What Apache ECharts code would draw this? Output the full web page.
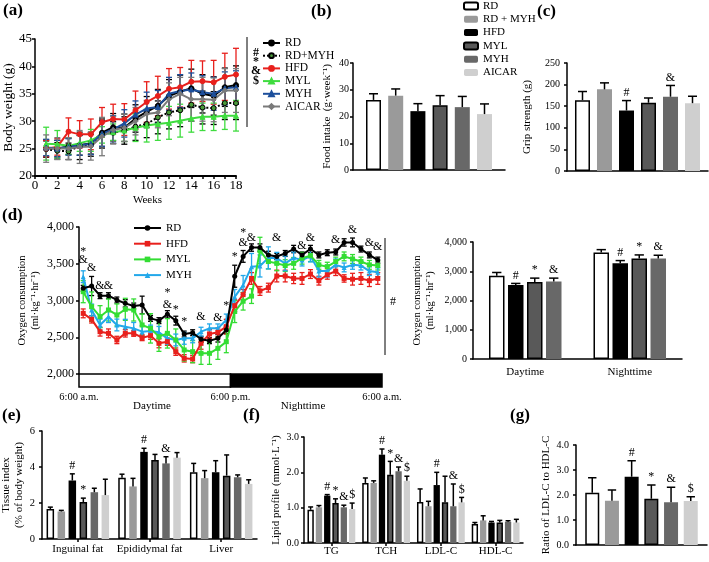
<!DOCTYPE html>
<html><head><meta charset="utf-8">
<script src="https://cdn.jsdelivr.net/npm/echarts@6/dist/echarts.min.js"></script>
<style>html,body{margin:0;padding:0;background:#fff}#c{width:709px;height:562px}</style>
</head><body><div id="c"></div>
<script>
const FONT = 'Liberation Serif';

// ---------- (a) body weight ----------
const weeks = [1,2,3,4,5,6,7,8,9,10,11,12,13,14,15,16,17,18];
const weekTicks = [0,2,4,6,8,10,12,14,16,18];
const bwRD     = [25.1,25.0,25.4,25.6,26.0,27.9,28.9,28.8,30.5,31.7,32.8,34.6,35.4,36.0,35.0,34.6,36.2,36.6];
const bwRDMYH  = [24.9,24.6,24.5,25.5,25.6,27.6,27.9,28.3,29.0,29.5,30.7,31.6,32.0,33.0,32.5,32.4,33.3,33.3];
const bwHFD    = [25.0,25.3,28.1,27.6,27.6,29.8,30.4,30.3,32.0,33.5,34.6,35.9,36.2,37.2,37.3,37.1,38.1,38.5];
const bwMYL    = [25.9,25.8,25.5,26.0,26.5,27.5,28.0,28.3,28.8,29.2,29.5,29.7,30.1,30.5,30.8,30.8,31.0,31.0];
const bwMYH    = [25.2,25.0,25.3,25.6,25.9,27.7,28.5,29.6,31.2,32.3,32.6,35.0,35.5,35.8,35.3,35.0,36.0,36.2];
const bwAICAR  = [25.0,25.0,25.0,25.3,25.4,27.2,28.4,28.8,30.0,31.3,31.6,34.0,35.0,34.0,34.0,33.9,35.6,35.6];
const bwRDErr    = [1.5,1.5,1.5,1.8,2.0,2.5,2.5,2.5,2.5,2.8,3.0,3.0,3.0,3.5,3.5,3.5,3.5,3.5];
const bwRDMYHErr = [1.5,1.5,1.5,2.5,2.0,2.5,2.0,2.5,2.5,2.5,3.0,3.0,3.0,3.0,3.0,3.0,3.0,3.0];
const bwHFDErr   = [1.5,1.5,2.5,2.5,2.8,2.7,2.7,2.9,3.5,3.7,3.6,3.7,3.6,3.9,3.7,4.0,4.3,4.8];
const bwMYLErr   = [3.0,2.5,1.5,1.5,2.0,1.5,1.5,2.0,2.5,3.0,3.0,3.0,3.0,2.5,2.5,2.5,2.5,2.8];
const bwMYHErr   = [1.5,1.5,1.5,1.8,2.0,2.3,2.5,2.5,2.5,3.0,3.0,3.0,3.0,3.0,3.0,3.0,3.0,3.0];
const bwAICARErr = [2.5,2.0,2.0,3.0,2.5,3.5,2.5,2.5,2.5,2.5,2.8,3.0,3.0,4.0,4.0,4.0,4.0,4.0];
const bwSig = ['#','*','&','$'];

// ---------- groups ----------
const groups6 = ['RD','RD + MYH','HFD','MYL','MYH','AICAR'];
const groups4 = ['RD','HFD','MYL','MYH'];

// ---------- (b) food intake ----------
const foodIntake    = [26.2, 27.8, 22.0, 24.2, 23.5, 20.9];
const foodIntakeErr = [2.3, 2.5, 2.8, 3.6, 4.0, 3.8];

// ---------- (c) grip strength ----------
const gripStrength    = [164, 189, 140, 158, 172, 157];
const gripStrengthErr = [20, 15, 23, 11, 26, 16];
const gripMarks = ['', '', '#', '', '&', ''];

// ---------- (d) oxygen consumption time course ----------
const timeLabels = ['6:00 a.m.', '6:00 p.m.', '6:00 a.m.'];
const o2RD  = [3166,3197,3066,3066,3007,2961,2925,2939,2757,2726,2812,2726,2544,2562,2472,2453,2485,2599,
               3330,3600,3720,3720,3620,3600,3640,3700,3620,3700,3620,3650,3660,3790,3790,3700,3620,3550];
const o2HFD = [2825,2744,2576,2553,2463,2553,2553,2494,2522,2417,2440,2304,2213,2204,2417,2545,2567,2644,
               2930,3080,3300,3130,3175,3333,3333,3300,3300,3360,3270,3350,3400,3300,3290,3300,3270,3300];
const o2MYL = [3120,2916,2780,2871,2803,2880,2871,2667,2621,2508,2553,2463,2327,2304,2281,2281,2349,2440,
               2850,2990,3060,3680,3530,3505,3475,3505,3575,3610,3485,3460,3530,3600,3565,3530,3485,3475];
const o2MYH = [3324,2871,2667,2780,2667,2644,2621,2576,2585,2567,2485,2463,2485,2485,2576,2621,2621,2735,
               3050,3210,3460,3470,3580,3575,3505,3580,3550,3605,3400,3400,3485,3450,3485,3475,3400,3385];
const o2RDErr  = [40,130,40,40,40,50,40,120,40,40,50,60,40,40,40,40,50,50, 150,80,50,50,50,40,40,50,40,50,40,40,40,50,60,40,40,40];
const o2HFDErr = [60,50,60,60,50,50,40,40,50,60,50,50,50,50,80,60,60,100, 80,70,80,60,60,80,80,70,80,60,60,60,60,50,80,80,80,80];
const o2MYLErr = [150,200,150,150,150,150,150,150,200,200,200,150,150,150,150,150,150,150, 150,120,100,180,100,100,80,80,80,80,60,60,60,60,60,60,60,60];
const o2MYHErr = [80,80,80,80,80,100,80,80,80,80,80,80,80,60,60,60,60,80, 100,130,180,150,150,80,100,80,80,80,80,80,80,60,60,60,60,60];
const o2Phases = [[0, 18], [18, 36]];
const o2Marks = [[0,'*',3664],[0,'&',3551],[1,'&',3438],[2,'&',3197],[3,'&',3197],[10,'*',3098],[10,'&',2939],
  [11,'*',2871],[12,'*',2703],[14,'&',2780],[16,'&',2758],[17,'*',2925],[18,'*',3590],[19,'*',3914],[19,'&',3786],
  [20,'&',3854],[23,'&',3854],[26,'&',3746],[27,'&',3854],[30,'&',3823],[32,'&',3959],[34,'&',3778],[35,'&',3732]];

// ---------- (d right) day / night means ----------
const phaseCats = ['Daytime', 'Nighttime'];
const o2Day      = [2844, 2527, 2629, 2651];
const o2DayErr   = [114, 57, 136, 114];
const o2Night    = [3637, 3275, 3433, 3433];
const o2NightErr = [102, 90, 125, 114];
const o2BarMarks = [['',''], ['#','#'], ['*','*'], ['&','&']];

// ---------- (e) tissue index ----------
const tissueCats = ['Inguinal fat', 'Epididymal fat', 'Liver'];
const tissueVals = [[1.66,3.40,3.71],[1.53,2.92,3.38],[3.25,4.84,3.71],[2.05,4.39,3.52],[2.60,4.20,3.43],[2.44,4.52,3.06]];
const tissueErrs = [[0.11,0.20,0.49],[0.06,0.45,0.42],[0.37,0.20,0.64],[0.22,0.31,1.15],[0.22,0.37,0.13],[0.88,0.28,0.23]];
const tissueMarks = [['','',''],['','',''],['#','#',''],['*','',''],['','&',''],['','','']];

// ---------- (f) lipid profile ----------
const lipidCats = ['TG', 'TCH', 'LDL-C', 'HDL-C'];
const lipidVals = [[0.94,1.70,1.16,0.54],[1.01,1.70,1.04,0.64],[1.34,2.50,1.64,0.58],[1.13,1.93,1.15,0.58],[1.01,2.03,1.04,0.60],[0.96,1.76,1.15,0.58]];
const lipidErrs = [[0.08,0.14,0.37,0.04],[0.05,0.06,0.14,0.13],[0.03,0.16,0.36,0.03],[0.12,0.38,0.74,0.06],[0.06,0.12,0.63,0.03],[0.17,0.13,0.14,0.09]];
const lipidMarks = [['','','',''],['','','',''],['#','#','#',''],['*','*','',''],['&','&','&',''],['$','$','$','']];

// ---------- (g) LDL/HDL ratio ----------
const ldlHdl    = [2.09, 1.77, 2.73, 1.85, 1.71, 1.76];
const ldlHdlErr = [0.60, 0.43, 0.64, 0.55, 0.60, 0.17];
const ldlHdlMarks = ['', '', '#', '*', '&', '$'];

// ================= building =================
const chart = echarts.init(document.getElementById('c'), null, {renderer:'canvas', width:709, height:562});
const TXT = {color:'#000', fontFamily:FONT, fontSize:11};
const tx = fs => ({color:'#000', fontFamily:FONT, fontSize:fs});
const barLook6 = [
  {color:'#ffffff', borderColor:'#000', borderWidth:1.5},
  {color:'#9a9a9a'},
  {color:'#000000'},
  {color:'#595959', borderColor:'#000', borderWidth:1.5},
  {color:'#686868'},
  {color:'#cfcfcf'}
];
const barLook4 = [barLook6[0], barLook6[2], barLook6[3], barLook6[4]];

const grids = [
  {left:35, top:39, width:201, height:137},
  {left:353, top:63, width:152, height:107},
  {left:567, top:63, width:141, height:108},
  {left:79, top:227, width:303, height:147},
  {left:473, top:242, width:209, height:117},
  {left:42, top:431, width:215, height:108},
  {left:304, top:437, width:219, height:106},
  {left:576, top:445, width:131, height:100}
].map(g => Object.assign({outerBoundsMode:'none', containLabel:false}, g));

function yAx(gi, min, max, interval, name, nameGap, margin, fmt, fs, nfs) {
  return {gridIndex:gi, type:'value', min, max, interval, name, nameGap, nameLocation:'middle',
    nameTextStyle:Object.assign({lineHeight:13}, tx(nfs || 11)),
    splitLine:{show:false},
    axisLine:{show:true, lineStyle:{color:'#000', width:1.5}},
    axisTick:{show:true, length:3, lineStyle:{color:'#000', width:1.5}},
    axisLabel:Object.assign({margin, formatter:fmt}, tx(fs || 11))};
}
function catAx(gi, cats, show, margin) {
  return {gridIndex:gi, type:'category', data:cats,
    axisLine:{show:true, lineStyle:{color:'#000', width:1.5}},
    axisTick:{show:show, alignWithLabel:true, length:3, lineStyle:{color:'#000', width:1.5}},
    axisLabel:Object.assign({show:show, margin, interval:0}, TXT)};
}
const comma = v => v.toLocaleString('en-US');
const dec1 = v => v.toFixed(1);

const xAxes = [
  {gridIndex:0, type:'value', min:0, max:18, interval:1, name:'Weeks', nameLocation:'middle', nameGap:19,
   nameTextStyle:Object.assign({padding:[0,0,0,24]}, TXT), splitLine:{show:false},
   axisLine:{show:true, lineStyle:{color:'#000', width:2}},
   axisTick:{show:true, length:3, lineStyle:{color:'#000', width:1.5}},
   axisLabel:Object.assign({margin:3, formatter: v => weekTicks.includes(v) ? String(v) : ''}, tx(13))},
  catAx(1, [''], false, 4),
  catAx(2, [''], false, 4),
  {gridIndex:3, type:'value', min:0, max:36, interval:18, splitLine:{show:false},
   axisLine:{show:false}, axisTick:{show:false},
   axisLabel:Object.assign({margin:18, formatter: v => timeLabels[v/18] || ''}, tx(10.5))},
  catAx(4, phaseCats, true, 8),
  catAx(5, tissueCats, true, 5),
  catAx(6, lipidCats, true, 3),
  catAx(7, [''], false, 4)
];
xAxes[4].axisTick.show = false;

const yAxes = [
  yAx(0, 20, 45, 5, 'Body weight (g)', 20, 3, null, 13, 13.5),
  yAx(1, 0, 40, 10, 'Food intake  (g·week⁻¹)', 19, 4, null, 10),
  yAx(2, 0, 250, 50, 'Grip strength (g)', 33, 7, null, 10),
  yAx(3, 2000, 4000, 500, 'Oxygen consumption\n(ml·kg⁻¹·hr⁻¹)', 37, 5, comma, 12, 10.5),
  yAx(4, 0, 4000, 1000, 'Oxygen consumption\n(ml·kg⁻¹·hr⁻¹)', 36, 6, comma, 10, 10.5),
  yAx(5, 0, 6, 2, 'Tissue index\n(% of body weight)', 16, 7, null, 10.5),
  yAx(6, 0, 3, 1, 'Lipid profile (mmol·L⁻¹)', 20, 5, dec1, 10),
  yAx(7, 0, 4, 1, 'Ratio of LDL-C to HDL-C', 20, 7, dec1, 10)
];

const series = [];

// error bars for line panels
function lineErr(gi, xs, vals, errs, color, cap) {
  return {type:'custom', xAxisIndex:gi, yAxisIndex:gi, z:3, silent:true,
    encode:{x:0, y:[1,2]},
    data: vals.map((v,i) => [xs[i], v - errs[i], v + errs[i]]),
    renderItem: (p, api) => {
      const a = api.coord([api.value(0), api.value(1)]), b = api.coord([api.value(0), api.value(2)]);
      const c = cap/2, st = {stroke:color, lineWidth:1.3};
      return {type:'group', children:[
        {type:'line', shape:{x1:a[0], y1:a[1], x2:b[0], y2:b[1]}, style:st},
        {type:'line', shape:{x1:a[0]-c, y1:a[1], x2:a[0]+c, y2:a[1]}, style:st},
        {type:'line', shape:{x1:b[0]-c, y1:b[1], x2:b[0]+c, y2:b[1]}, style:st}]};
    }};
}

// (a)
const aDefs = [
  ['RD', bwRD, bwRDErr, '#000000', 'circle', '#000', 'solid'],
  ['RD+MYH', bwRDMYH, bwRDMYHErr, '#000000', 'circle', '#4a9a3a', 'dotted'],
  ['HFD', bwHFD, bwHFDErr, '#e8201c', 'circle', '#e8201c', 'solid'],
  ['MYL', bwMYL, bwMYLErr, '#3fdc3f', 'triangle', '#3fdc3f', 'solid'],
  ['MYH', bwMYH, bwMYHErr, '#1d4f9c', 'triangle', '#1d4f9c', 'solid'],
  ['AICAR', bwAICAR, bwAICARErr, '#7a7a7a', 'diamond', '#7a7a7a', 'solid']
];
aDefs.forEach(d => series.push(lineErr(0, weeks, d[1], d[2], d[3], 6)));
aDefs.forEach(d => series.push({type:'line', name:d[0], xAxisIndex:0, yAxisIndex:0, z:4, silent:true,
  data: weeks.map((w,i) => [w, d[1][i]]), symbol:d[4], symbolSize:5,
  lineStyle:{color:d[3], width:2, type:d[6]}, itemStyle:{color:d[5], borderColor:d[3], borderWidth:1}}));

// bar panels
function barPanel(gi, prefix, names, looks, vals, errs, marks, bw, gap) {
  const n = vals.length;
  for (let j = 0; j < n; j++) {
    series.push({type:'bar', name:prefix + names[j], xAxisIndex:gi, yAxisIndex:gi, data:vals[j],
      barWidth:bw, barGap:(gap / bw * 100).toFixed(1) + '%', itemStyle:looks[j], z:2, silent:true});
  }
  for (let j = 0; j < n; j++) {
    const mk = marks ? marks[j] : null;
    const off = (j - (n - 1) / 2) * (bw + gap);
    series.push({type:'custom', xAxisIndex:gi, yAxisIndex:gi, z:3, silent:true, encode:{x:0, y:[1,2]},
      data: vals[j].map((v,k) => [k, v, v + errs[j][k]]),
      renderItem: (p, api) => {
        const k = api.value(0), a = api.coord([k, api.value(1)]), b = api.coord([k, api.value(2)]);
        const x = a[0] + off, c = Math.max(2.5, bw * 0.3), st = {stroke:'#000', lineWidth:1.5};
        const ch = [{type:'line', shape:{x1:x, y1:a[1], x2:x, y2:b[1]}, style:st},
                    {type:'line', shape:{x1:x-c, y1:b[1], x2:x+c, y2:b[1]}, style:st}];
        const m = mk && mk[p.dataIndex];
        if (m) ch.push({type:'text', x:x, y:b[1] - 2, style:{text:m, align:'center', verticalAlign:'bottom',
          font:'12px "Liberation Serif"', fill:'#000'}});
        return {type:'group', children:ch};
      }});
  }
}
barPanel(1, 'b:', groups6, barLook6, foodIntake.map(v => [v]), foodIntakeErr.map(e => [e]), null, 15, 7.2);
barPanel(2, 'c:', groups6, barLook6, gripStrength.map(v => [v]), gripStrengthErr.map(e => [e]), gripMarks.map(m => [m]), 15, 7);
barPanel(4, 'r:', groups4, barLook4, o2Day.map((v,j) => [v, o2Night[j]]), o2DayErr.map((e,j) => [e, o2NightErr[j]]), o2BarMarks, 15.5, 3.5);
barPanel(5, 'e:', groups6, barLook6, tissueVals, tissueErrs, tissueMarks, 7.5, 3.5);
barPanel(6, 'f:', groups6, barLook6, lipidVals, lipidErrs, lipidMarks, 6.3, 2);
barPanel(7, 'g:', groups6, barLook6, ldlHdl.map(v => [v]), ldlHdlErr.map(e => [e]), ldlHdlMarks.map(m => [m]), 14, 5.7);

// (d) time course
const idx36 = o2RD.map((v,i) => i + 0.5);
const dDefs = [
  ['d:RD', o2RD, o2RDErr, '#000000', 'circle'],
  ['d:HFD', o2HFD, o2HFDErr, '#e8201c', 'rect'],
  ['d:MYL', o2MYL, o2MYLErr, '#33dd33', 'rect'],
  ['d:MYH', o2MYH, o2MYHErr, '#22a8ea', 'triangle']
];
dDefs.forEach(d => series.push(lineErr(3, idx36, d[1], d[2], d[3], 5)));
[2,3,1,0].forEach(k => { const d = dDefs[k]; series.push({type:'line', name:d[0], xAxisIndex:3, yAxisIndex:3, z:4 + (3-k)*0.1, silent:true,
  data: d[1].map((v,i) => [idx36[i], v]), symbol:d[4], symbolSize:5,
  lineStyle:{color:d[3], width:2}, itemStyle:{color:d[3]}}); });
series.push({type:'custom', xAxisIndex:3, yAxisIndex:3, z:5, silent:true, data:o2Phases,
  encode:{x:[0,1]},
  renderItem: (p, api) => {
    const a = api.coord([api.value(0), 2000]), b = api.coord([api.value(1), 2000]);
    return {type:'rect', shape:{x:a[0], y:a[1], width:b[0]-a[0], height:13},
      style:{fill: p.dataIndex === 0 ? '#fff' : '#000', stroke:'#000', lineWidth:1.5}};
  }});
series.push({type:'custom', xAxisIndex:3, yAxisIndex:3, z:6, silent:true,
  data: o2Marks.map(m => [m[0] + 0.5, m[2]]),
  renderItem: (p, api) => {
    const c = api.coord([api.value(0), api.value(1)]);
    return {type:'text', x:c[0], y:c[1], style:{text:o2Marks[p.dataIndex][1], align:'center', verticalAlign:'middle',
      font:'12px "Liberation Serif"', fill:'#000'}};
  }});

const strip = n => n.replace(/^[a-z]:/, '');
const legends = [
  {data:['RD','RD+MYH','HFD','MYL','MYH','AICAR'], orient:'vertical', left:262, top:37, padding:0,
   itemWidth:17, itemHeight:6, itemGap:0.7, selectedMode:false, textStyle:Object.assign({lineHeight:9}, tx(11.5))},
  {data:groups6.map(g => 'b:' + g), formatter:strip, orient:'vertical', left:463, top:0, padding:0,
   itemWidth:14, itemHeight:7, itemGap:1.3, selectedMode:false, textStyle:Object.assign({lineHeight:12}, TXT)},
  {data:dDefs.map(d => d[0]), formatter:strip, orient:'vertical', left:133, top:222, padding:0,
   itemWidth:27, itemHeight:7, itemGap:3.7, selectedMode:false, textStyle:Object.assign({lineHeight:12}, TXT)}
];

const PL = 'bold 17px "Liberation Serif"';
const T11 = '11px "Liberation Serif"';
const T12 = '12px "Liberation Serif"';
const graphic = [
  {type:'text', left:3, top:2, style:{text:'(a)', font:PL, fill:'#000'}},
  {type:'text', left:311, top:3, style:{text:'(b)', font:PL, fill:'#000'}},
  {type:'text', left:537, top:3, style:{text:'(c)', font:PL, fill:'#000'}},
  {type:'text', left:2, top:207, style:{text:'(d)', font:PL, fill:'#000'}},
  {type:'text', left:2, top:407, style:{text:'(e)', font:PL, fill:'#000'}},
  {type:'text', left:243, top:407, style:{text:'(f)', font:PL, fill:'#000'}},
  {type:'text', left:510, top:407, style:{text:'(g)', font:PL, fill:'#000'}},
  {type:'line', shape:{x1:247, y1:37, x2:247, y2:127}, style:{stroke:'#000', lineWidth:1}},
  {type:'line', shape:{x1:385, y1:238, x2:385, y2:355}, style:{stroke:'#000', lineWidth:1}},
  {type:'text', x:393, y:302, style:{text:'#', font:T12, fill:'#000', align:'center', verticalAlign:'middle'}},
  {type:'text', x:152, y:406, style:{text:'Daytime', font:T11, fill:'#000', align:'center', verticalAlign:'middle'}},
  {type:'text', x:303, y:406, style:{text:'Nighttime', font:T11, fill:'#000', align:'center', verticalAlign:'middle'}}
];
bwSig.forEach((s, i) => graphic.push({type:'text', x:256, y:53 + i * 9.2,
  style:{text:s, font:'bold 12px "Liberation Serif"', fill:'#000', align:'center', verticalAlign:'middle'}}));

chart.setOption({
  animation:false, backgroundColor:'#fff', textStyle:{fontFamily:FONT},
  grid:grids, xAxis:xAxes, yAxis:yAxes, legend:legends, series, graphic
});
</script></body></html>
